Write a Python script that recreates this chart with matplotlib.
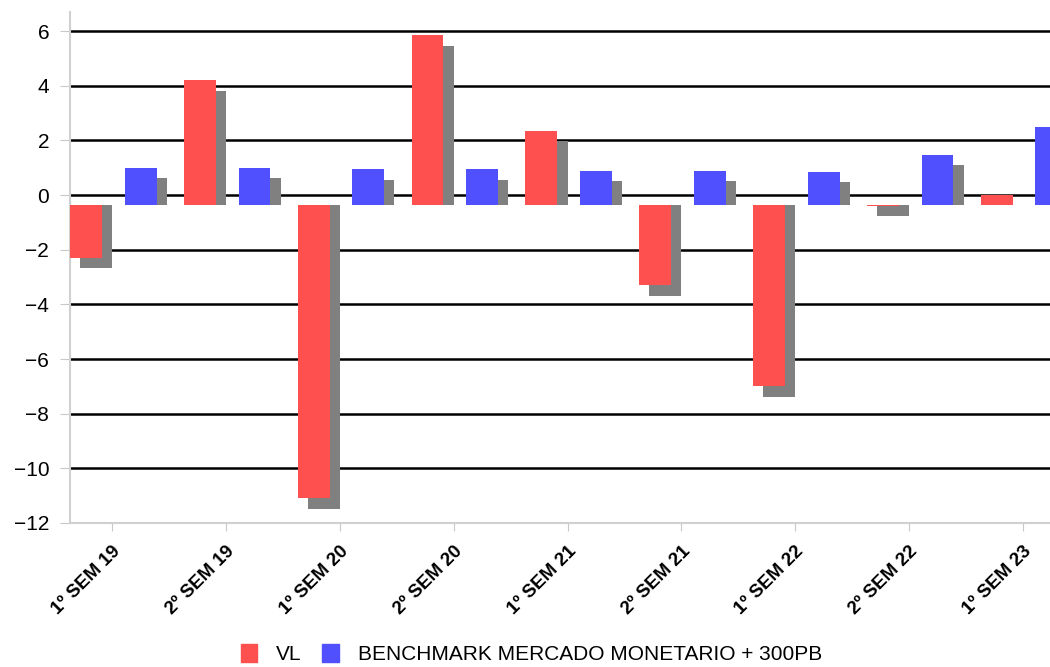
import matplotlib
matplotlib.use("Agg")
import matplotlib.pyplot as plt
import numpy as np

plt.rcParams['font.family'] = ['Liberation Sans', 'DejaVu Sans']

# dados
semestres = ["1º SEM 19", "2º SEM 19", "1º SEM 20", "2º SEM 20", "1º SEM 21",
             "2º SEM 21", "1º SEM 22", "2º SEM 22", "1º SEM 23"]
vl = [-2.3, 4.2, -11.1, 5.85, 2.35, -3.3, -7.0, -0.4, 0.0]
benchmark = [1.0, 1.0, 0.95, 0.95, 0.9, 0.9, 0.85, 1.47, 2.5]

cor_vl = "#FF5050"
cor_bm = "#5050FF"
cor_sombra = "#808080"

base = -0.37      # as barras começam um pouco abaixo do zero
desloc_y = 0.38   # sombra deslocada para baixo
desloc_x = 0.09   # e para a direita
largura = 0.28

fig = plt.figure(figsize=(10.5, 6.67), dpi=100)
ax = fig.add_axes([0.0667, 0.2159, 0.94, 0.766])

x = np.arange(len(semestres))

for serie, pos, cor in [(vl, -0.23, cor_vl), (benchmark, 0.25, cor_bm)]:
    for xi, v in zip(x, serie):
        alt_sombra = (v - desloc_y) - base
        if abs(alt_sombra) > 0.05:
            ax.bar(xi + pos + desloc_x, alt_sombra, bottom=base, width=largura,
                   color=cor_sombra, zorder=2, linewidth=0)
        ax.bar(xi + pos, v - base, bottom=base, width=largura, color=cor,
               zorder=3, linewidth=0)

ax.set_ylim(-12, 6.7)
ax.set_xlim(-0.37, 8.3)
ax.set_yticks(range(-12, 7, 2))
ax.set_xticks(x)
ax.set_xticklabels(semestres, rotation=45, ha="right", rotation_mode="anchor",
                   fontsize=13.5, fontweight="bold")
ax.tick_params(axis="y", labelsize=15, length=7, color="#c8c8c8", pad=8)
ax.tick_params(axis="x", length=6, color="#c8c8c8", pad=8)

for g in range(-10, 7, 2):
    ax.axhline(g, color="black", linewidth=1.8, zorder=1)

for lado in ["top", "right"]:
    ax.spines[lado].set_visible(False)
ax.spines["left"].set_color("#d0d0d0")
ax.spines["bottom"].set_color("#d0d0d0")
ax.spines["left"].set_linewidth(1.5)
ax.spines["bottom"].set_linewidth(1.5)

h1 = plt.Rectangle((0, 0), 1, 1, color=cor_vl)
h2 = plt.Rectangle((0, 0), 1, 1, color=cor_bm)
fig.legend([h1, h2], ["VL", "BENCHMARK MERCADO MONETARIO + 300PB"],
           loc="center", bbox_to_anchor=(0.506, 0.0195), ncol=2, frameon=False,
           fontsize=15, handlelength=0.8, handleheight=1.0, columnspacing=1.0,
           handletextpad=0.9, borderpad=0)

fig.savefig("out.png", dpi=100)
